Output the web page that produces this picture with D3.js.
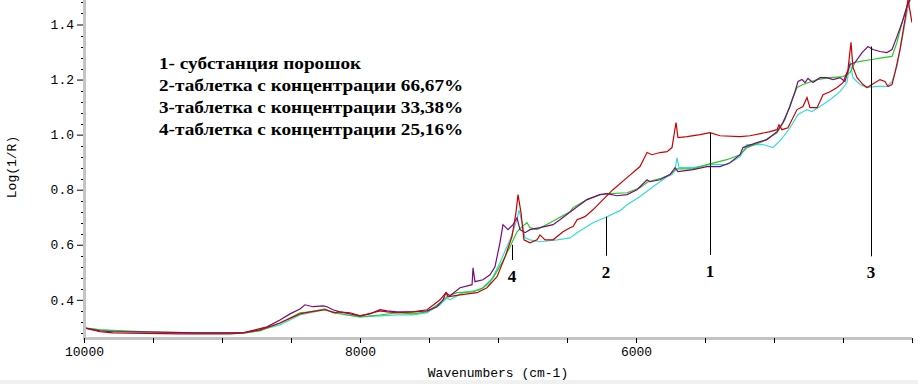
<!DOCTYPE html>
<html>
<head>
<meta charset="utf-8">
<script src="https://cdn.jsdelivr.net/npm/d3@7"></script>
<style>
  body { margin: 0; background: #fff; }
  svg { display: block; }
</style>
</head>
<body>
<svg id="chart" width="918" height="384"></svg>
<script>
// [wavenumber, log(1/R)]
const powder = [
  [10000,0.298],[9884,0.284],[9790,0.280],[9304,0.276],[8942,0.276],[8848,0.280],[8725,0.291],[8580,0.316],
  [8435,0.349],[8362,0.356],[8254,0.364],[8181,0.353],[8159,0.356],[8072,0.353],[8000,0.342],[7906,0.353],
  [7855,0.360],[7804,0.356],[7732,0.353],[7616,0.356],[7514,0.364],[7420,0.400],[7377,0.426],[7362,0.411],
  [7275,0.418],[7152,0.426],[7080,0.444],[7007,0.484],[6949,0.556],[6899,0.629],[6870,0.716],[6855,0.782],
  [6833,0.716],[6812,0.618],[6768,0.607],[6717,0.618],[6696,0.636],[6659,0.618],[6601,0.618],[6529,0.647],
  [6478,0.662],[6456,0.666],[6427,0.691],[6370,0.702],[6312,0.727],[6239,0.764],[6167,0.800],[6065,0.844],
  [5971,0.884],[5920,0.935],[5884,0.927],[5826,0.935],[5775,0.938],[5739,0.953],[5710,1.044],[5696,0.989],
  [5630,0.993],[5536,1.000],[5464,1.007],[5391,0.996],[5246,0.993],[5174,0.996],[5029,1.011],[4978,1.018],
  [4964,1.036],[4942,1.018],[4899,1.025],[4833,1.091],[4790,1.102],[4761,1.135],[4739,1.098],[4688,1.098],
  [4667,1.120],[4645,1.145],[4594,1.156],[4543,1.171],[4500,1.189],[4464,1.236],[4442,1.335],[4428,1.244],
  [4398,1.207],[4355,1.182],[4326,1.171],[4290,1.182],[4232,1.200],[4196,1.193],[4174,1.175],[4145,1.182],
  [4123,1.225],[4087,1.309],[4051,1.418],[4029,1.491],[4000,1.407]
];

const tab6667 = [
  [10000,0.298],[9884,0.291],[9543,0.280],[9181,0.280],[8819,0.280],[8775,0.284],[8580,0.309],[8435,0.345],
  [8254,0.364],[8094,0.345],[8000,0.338],[7855,0.342],[7732,0.345],[7616,0.345],[7514,0.353],[7420,0.382],
  [7370,0.407],[7348,0.400],[7254,0.426],[7130,0.436],[7058,0.462],[6986,0.535],[6913,0.618],[6862,0.691],
  [6848,0.727],[6826,0.680],[6804,0.625],[6768,0.618],[6696,0.611],[6572,0.618],[6478,0.625],[6427,0.644],
  [6312,0.680],[6210,0.702],[6116,0.724],[6065,0.745],[5971,0.775],[5877,0.811],[5775,0.847],[5739,0.855],
  [5717,0.873],[5703,0.916],[5688,0.880],[5587,0.880],[5464,0.891],[5341,0.891],[5246,0.920],[5196,0.964],
  [5080,0.964],[5007,0.953],[4949,0.982],[4884,1.025],[4826,1.073],[4761,1.091],[4725,1.084],[4667,1.102],
  [4594,1.127],[4522,1.156],[4471,1.189],[4449,1.266],[4428,1.207],[4377,1.182],[4326,1.171],[4254,1.175],
  [4181,1.175],[4145,1.193],[4109,1.247],[4072,1.346],[4036,1.444],[4014,1.491],[4000,1.530]
];

const tab3338 = [
  [10000,0.298],[9884,0.287],[9790,0.284],[9594,0.284],[9181,0.280],[8848,0.280],[8674,0.302],[8580,0.327],
  [8507,0.349],[8435,0.367],[8399,0.382],[8341,0.375],[8268,0.378],[8239,0.375],[8196,0.364],[8145,0.356],
  [8072,0.349],[8000,0.342],[7928,0.349],[7855,0.364],[7804,0.360],[7732,0.356],[7616,0.356],[7514,0.360],
  [7442,0.375],[7399,0.400],[7377,0.426],[7348,0.415],[7275,0.444],[7188,0.455],[7181,0.516],[7167,0.466],
  [7109,0.473],[7058,0.491],[7022,0.520],[6986,0.607],[6964,0.673],[6928,0.655],[6891,0.673],[6862,0.698],
  [6841,0.655],[6804,0.644],[6768,0.655],[6696,0.662],[6601,0.673],[6551,0.691],[6456,0.727],[6355,0.764],
  [6261,0.782],[6210,0.786],[6138,0.778],[6065,0.782],[5993,0.800],[5920,0.836],[5899,0.829],[5826,0.836],
  [5754,0.855],[5717,0.880],[5696,0.866],[5587,0.873],[5486,0.884],[5391,0.884],[5319,0.898],[5246,0.927],
  [5225,0.953],[5123,0.971],[5051,0.982],[4978,1.011],[4935,1.044],[4884,1.102],[4848,1.156],[4826,1.193],
  [4797,1.200],[4775,1.189],[4754,1.204],[4717,1.189],[4667,1.207],[4616,1.207],[4572,1.200],[4522,1.207],
  [4486,1.193],[4449,1.255],[4413,1.262],[4362,1.298],[4319,1.320],[4283,1.309],[4232,1.302],[4181,1.298],
  [4145,1.309],[4109,1.356],[4072,1.407],[4036,1.466],[4014,1.491],[4000,1.530]
];

const tab2516 = [
  [10000,0.298],[9884,0.291],[9543,0.284],[9181,0.280],[8848,0.280],[8725,0.287],[8580,0.316],[8435,0.353],
  [8362,0.356],[8254,0.367],[8196,0.353],[8094,0.345],[8000,0.338],[7855,0.345],[7732,0.353],[7616,0.349],
  [7514,0.356],[7420,0.389],[7370,0.411],[7297,0.426],[7181,0.429],[7109,0.444],[7036,0.480],[6971,0.535],
  [6913,0.593],[6862,0.647],[6826,0.666],[6790,0.680],[6768,0.662],[6717,0.655],[6623,0.680],[6478,0.720],
  [6456,0.735],[6355,0.764],[6261,0.782],[6188,0.786],[6065,0.789],[5971,0.807],[5913,0.829],[5826,0.840],
  [5754,0.855],[5703,0.876],[5587,0.876],[5486,0.891],[5341,0.909],[5246,0.927],[5196,0.953],[5080,0.975],
  [4978,1.007],[4920,1.055],[4870,1.127],[4833,1.171],[4790,1.182],[4688,1.200],[4594,1.207],[4500,1.211],
  [4449,1.225],[4413,1.262],[4377,1.266],[4290,1.273],[4210,1.280],[4145,1.284],[4109,1.335],[4072,1.407],
  [4036,1.466],[4014,1.491],[4000,1.530]
];

const legendLines = [
  "1- субстанция порошок",
  "2-таблетка с концентрации 66,67%",
  "3-таблетка с концентрации 33,38%",
  "4-таблетка с концентрации 25,16%"
];

// numbered pointers: wavenumber, top of the stick (on the curve), bottom of the stick
const markers = [
  {label: "4", w: 6899, top: 0.600, bottom: 0.545},
  {label: "2", w: 6217, top: 0.702, bottom: 0.560},
  {label: "1", w: 5464, top: 1.007, bottom: 0.563},
  {label: "3", w: 4297, top: 1.320, bottom: 0.558}
];

const xTicks = d3.range(10000, 3999, -500);
const xLabels = [10000, 8000, 6000];
const yMajor = [0.4, 0.6, 0.8, 1.0, 1.2, 1.4];
const yMinor = d3.range(7, 38).map(k => k * 0.04);

let svg = d3.select("#chart"),
    plotL = 84, plotR = 912, plotT = 0, plotB = 337;

let x = d3.scaleLinear().domain([10000, 4000]).range([plotL, plotR]),
    y = d3.scaleLinear().domain([0.265, 1.489]).range([plotB, plotT]);

svg.append("rect").attr("x", 0).attr("y", 380).attr("width", 918).attr("height", 4).attr("fill", "#f0f0f0");

svg.append("clipPath").attr("id", "plot")
  .append("rect").attr("x", plotL).attr("y", plotT).attr("width", plotR - plotL).attr("height", plotB - plotT);

let line = d3.line()
  .x(d => x(d[0]))
  .y(d => y(d[1]));

let series = [
  {data: tab6667, color: "#33dcdc"},
  {data: tab2516, color: "#22cc22"},
  {data: tab3338, color: "#7a0a7a"},
  {data: powder,  color: "#cc0000"}
];

let g = svg.append("g").attr("clip-path", "url(#plot)");
g.selectAll("path")
  .data(series)
  .enter()
  .append("path")
  .attr("d", d => line(d.data))
  .attr("fill", "none")
  .attr("stroke", d => d.color)
  .attr("stroke-width", 1.2);

// axes
svg.append("rect").attr("x", plotL - 1).attr("y", plotT).attr("width", 3).attr("height", plotB + 3).attr("fill", "#c4c4c4");
svg.append("rect").attr("x", plotL - 1).attr("y", plotB).attr("width", plotR - plotL + 1).attr("height", 3).attr("fill", "#c4c4c4");

let xAxis = svg.append("g")
  .attr("transform", "translate(0," + (plotB + 1) + ")")
  .call(d3.axisBottom(x).tickValues(xTicks).tickSize(5).tickPadding(4)
    .tickFormat(d => xLabels.includes(d) ? d : ""));
xAxis.select(".domain").remove();

let yAxis = svg.append("g")
  .attr("transform", "translate(" + (plotL - 1) + ",0)")
  .call(d3.axisLeft(y).tickValues(yMajor).tickSize(6).tickPadding(3).tickFormat(d3.format(".1f")));
yAxis.select(".domain").remove();

svg.append("g")
  .selectAll("line")
  .data(yMinor.filter(v => !yMajor.some(m => Math.abs(m - v) < 1e-6)))
  .enter()
  .append("line")
  .attr("x1", plotL - 3).attr("x2", plotL - 1)
  .attr("y1", d => Math.round(y(d)) + 0.5).attr("y2", d => Math.round(y(d)) + 0.5)
  .attr("stroke", "#000");

svg.selectAll(".tick text")
  .style("font", "13px 'Liberation Mono', monospace")
  .attr("fill", "#000");

svg.append("text")
  .attr("x", (plotL + plotR) / 2)
  .attr("y", 377)
  .attr("text-anchor", "middle")
  .style("font", "13px 'Liberation Mono', monospace")
  .text("Wavenumbers (cm-1)");

svg.append("text")
  .attr("transform", "translate(16," + 167 + ") rotate(-90)")
  .attr("text-anchor", "middle")
  .style("font", "13px 'Liberation Mono', monospace")
  .text("Log(1/R)");

// legend text, stretched to the wider bold face of the original
let legend = svg.append("g")
  .selectAll("text")
  .data(legendLines)
  .enter()
  .append("text")
  .attr("x", 159)
  .attr("y", (d, i) => 69 + i * 22)
  .style("font", "bold 17px 'Liberation Serif', serif")
  .text(d => d);
legend.each(function() {
  let w = this.getComputedTextLength();
  d3.select(this).attr("textLength", w * 1.13).attr("lengthAdjust", "spacingAndGlyphs");
});

// numbered pointers
let mk = svg.append("g").selectAll("g").data(markers).enter().append("g");
mk.append("line")
  .attr("x1", d => Math.round(x(d.w)) + 0.5).attr("x2", d => Math.round(x(d.w)) + 0.5)
  .attr("y1", d => y(d.top)).attr("y2", d => y(d.bottom))
  .attr("stroke", "#000").attr("stroke-width", 1);
mk.append("text")
  .attr("x", d => x(d.w))
  .attr("y", d => y(d.bottom) + 22)
  .attr("text-anchor", "middle")
  .style("font", "bold 17px 'Liberation Serif', serif")
  .text(d => d.label);
</script>
</body>
</html>
